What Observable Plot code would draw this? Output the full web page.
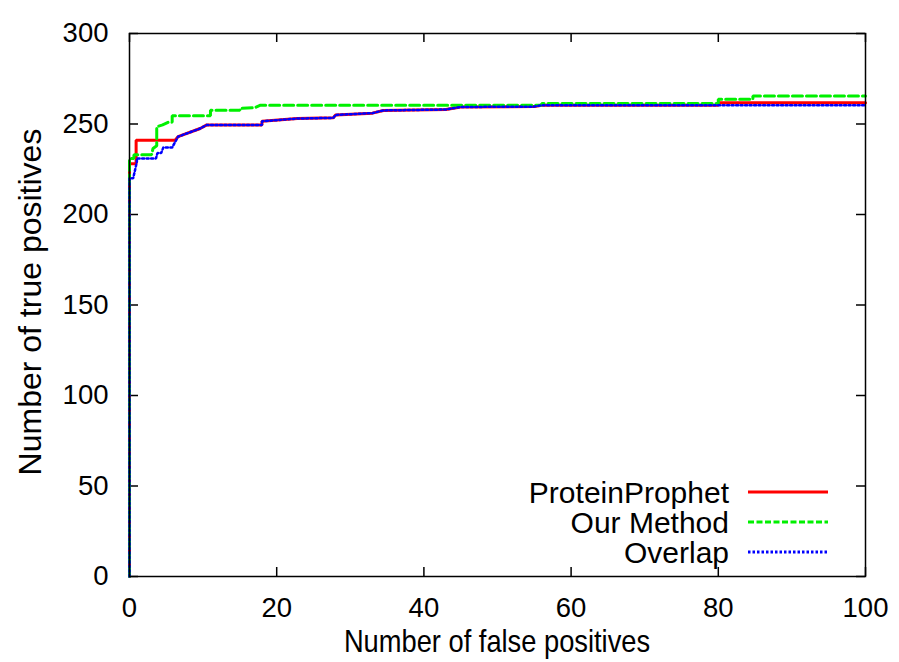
<!DOCTYPE html>
<html>
<head>
<meta charset="utf-8">
<script src="https://cdn.jsdelivr.net/npm/d3@7"></script>
<script src="https://cdn.jsdelivr.net/npm/@observablehq/plot@0.6"></script>
<style>
  html, body { margin: 0; padding: 0; background: #fff; }
  #chart { width: 899px; height: 662px; }
</style>
</head>
<body>
<div id="chart"></div>
<script>
// ---- data ----
const xTicks = [0, 20, 40, 60, 80, 100];
const yTicks = [0, 50, 100, 150, 200, 250, 300];

const xLabel = "Number of false positives";
const yLabel = "Number of true positives";
const seriesNames = ["ProteinProphet", "Our Method", "Overlap"];

const proteinProphetFP = [0, 0, 0.9, 0.9, 6.2, 6.6, 9.6, 10.5, 18, 18, 22.8, 27.7, 28, 33, 34.5, 43, 45, 55, 56, 80, 80, 100];
const proteinProphetTP = [0, 228, 228, 241, 241, 243, 247.5, 249.5, 249.5, 251.5, 253, 253.4, 255, 256, 257.5, 258, 259.4, 259.6, 260.4, 260.4, 261.8, 261.8];

const ourMethodFP = [0, 0, 0.6, 0.6, 3, 3.2, 3.7, 3.7, 4.5, 5.3, 5.8, 5.8, 11, 11, 15, 15, 17, 17.8, 56, 56, 80, 80, 84.7, 84.7, 100];
const ourMethodTP = [0, 231, 231, 233, 233, 236.5, 238, 248.5, 249.5, 251, 251, 254.6, 254.6, 257.6, 257.6, 258.6, 259, 260.4, 260.4, 261.3, 261.3, 263.7, 263.7, 265.5, 265.5];

const overlapFP = [0, 0, 0.5, 1, 1, 3.6, 3.8, 4.3, 4.6, 5.8, 6.6, 9.6, 10.5, 18, 18, 22.8, 27.7, 28, 33, 34.5, 43, 45, 55, 56, 100];
const overlapTP = [0, 220, 220, 229, 231, 231, 234, 234, 237, 237, 243, 247.5, 249.5, 249.5, 251.5, 253, 253.4, 255, 256, 257.5, 258, 259.4, 259.6, 260.4, 260.4];

// ---- build tables ----
const toRows = (fp, tp) => fp.map((x, i) => ({fp: x, tp: tp[i]}));
const redRows = toRows(proteinProphetFP, proteinProphetTP);
const greenRows = toRows(ourMethodFP, ourMethodTP);
const blueRows = toRows(overlapFP, overlapTP);

const styles = [
  {color: "#ff0000", width: 3, dash: null, legendDash: null},
  {color: "#00f000", width: 3, dash: "10,4", legendDash: "6,2.5"},
  {color: "#0000ff", width: 2.5, dash: "2,2.5", legendDash: "2.5,2"}
];

const W = 899, H = 662;
const mL = 129, mR = 34, mT = 33, mB = 86;
const iW = W - mL - mR, iH = H - mT - mB;
const tick = 9;
const font = "'Liberation Sans', Arial, Helvetica, sans-serif";

const chart = Plot.plot({
  width: W,
  height: H,
  marginLeft: mL,
  marginRight: mR,
  marginTop: mT,
  marginBottom: mB,
  x: {domain: [0, 100], axis: null},
  y: {domain: [0, 300], axis: null},
  style: {fontFamily: font, color: "#000", background: "#fff", overflow: "visible"},
  marks: [
    // inward ticks on all four sides
    Plot.ruleX(xTicks, {x: d => d, insetTop: iH - tick, stroke: "#000", strokeWidth: 1.5}),
    Plot.ruleX(xTicks, {x: d => d, insetBottom: iH - tick, stroke: "#000", strokeWidth: 1.5}),
    Plot.ruleY(yTicks, {y: d => d, insetRight: iW - tick, stroke: "#000", strokeWidth: 1.5}),
    Plot.ruleY(yTicks, {y: d => d, insetLeft: iW - tick, stroke: "#000", strokeWidth: 1.5}),
    Plot.axisX({ticks: xTicks, tickSize: 0, tickPadding: 21, fontSize: 27.5, label: null, fill: "#000"}),
    Plot.axisY({ticks: yTicks, tickSize: 0, tickPadding: 21, fontSize: 27.5, label: null, fill: "#000"}),
    Plot.line(redRows, {x: "fp", y: "tp", stroke: styles[0].color, strokeWidth: styles[0].width, strokeLinejoin: "miter"}),
    Plot.line(greenRows, {x: "fp", y: "tp", stroke: styles[1].color, strokeWidth: styles[1].width, strokeDasharray: styles[1].dash, strokeLinejoin: "miter"}),
    Plot.line(blueRows, {x: "fp", y: "tp", stroke: styles[2].color, strokeWidth: styles[2].width, strokeDasharray: styles[2].dash, strokeLinejoin: "miter"}),
    Plot.frame({stroke: "#000", strokeWidth: 1.5})
  ]
});

document.getElementById("chart").appendChild(chart);

const svg = d3.select(chart);

// ---- axis titles ----
svg.append("text")
  .attr("transform", "translate(497,641) scale(0.88,1)")
  .attr("text-anchor", "middle")
  .attr("dy", "0.36em")
  .attr("font-family", font)
  .attr("font-size", 31)
  .attr("fill", "#000")
  .text(xLabel);

svg.append("text")
  .attr("transform", "translate(29,302) rotate(-90)")
  .attr("text-anchor", "middle")
  .attr("dy", "0.36em")
  .attr("font-family", font)
  .attr("font-size", 32)
  .attr("fill", "#000")
  .text(yLabel);

// ---- legend (inside plot, lower right) ----
const lg = svg.append("g").attr("font-family", font).attr("font-size", 30);
seriesNames.forEach((name, i) => {
  const cy = 492 + i * 30;
  lg.append("text")
    .attr("x", 729).attr("y", cy + 10.5)
    .attr("text-anchor", "end")
    .attr("fill", "#000")
    .text(name);
  const ln = lg.append("line")
    .attr("x1", 748).attr("x2", 828)
    .attr("y1", cy).attr("y2", cy)
    .attr("stroke", styles[i].color)
    .attr("stroke-width", 3);
  if (styles[i].legendDash) ln.attr("stroke-dasharray", styles[i].legendDash);
});
</script>
</body>
</html>
